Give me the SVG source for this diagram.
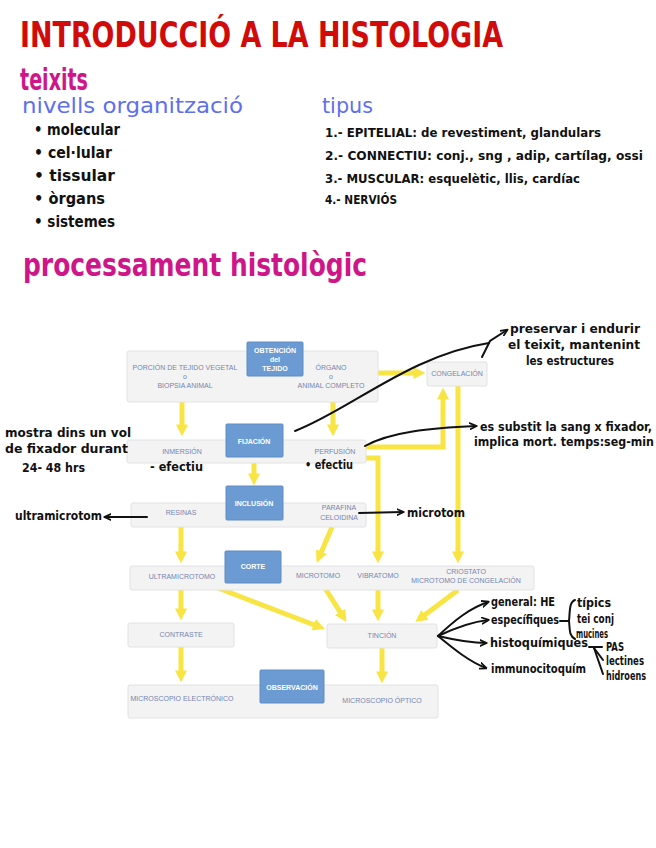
<svg xmlns="http://www.w3.org/2000/svg" width="656" height="848" viewBox="0 0 656 848">
<defs>
<marker id="ya" viewBox="0 0 10 10" refX="3" refY="5" markerWidth="12" markerHeight="12" markerUnits="userSpaceOnUse" orient="auto"><path d="M0,0 L10,5 L0,10 z" fill="#f8e443"/></marker>
<marker id="ba" viewBox="0 0 10 10" refX="8" refY="5" markerWidth="8" markerHeight="8" markerUnits="userSpaceOnUse" orient="auto"><path d="M0,1 L9,5 L0,9" fill="none" stroke="#111" stroke-width="2.2" stroke-linecap="round" stroke-linejoin="round"/></marker>
</defs>
<style>
.hw{font-family:"DejaVu Sans Condensed","DejaVu Sans","Liberation Sans",sans-serif;font-weight:bold}
.ink{fill:#111;font-size:12px}
.blue{fill:#5e6ff0;font-weight:normal}
.mag{fill:#cf1689}
.grey{fill:#f3f3f4;stroke:#e2e2e4;stroke-width:1}
.bx{fill:#6c9bd3;stroke:#5f8dc6;stroke-width:1}
.nt{font-family:"Liberation Sans",Arial,sans-serif;font-size:7px;fill:#7585ae;text-anchor:middle}
.wt{font-family:"Liberation Sans",Arial,sans-serif;font-size:7px;fill:#ffffff;font-weight:bold;text-anchor:middle}
.y{fill:none;stroke:#f8e443;stroke-width:5;marker-end:url(#ya)}
.k{fill:none;stroke:#111;stroke-width:2;stroke-linecap:round}
.ka{fill:none;stroke:#111;stroke-width:2;stroke-linecap:round;marker-end:url(#ba)}
</style>
<rect width="656" height="848" fill="#ffffff"/>

<g id="titles">
<text class="hw" x="20" y="47" font-size="36" fill="#d10a0a" textLength="483" lengthAdjust="spacingAndGlyphs">INTRODUCCIÓ A LA HISTOLOGIA</text>
<text class="hw mag" x="20" y="90" font-size="30" textLength="68" lengthAdjust="spacingAndGlyphs">teixits</text>
<text class="hw blue" x="22" y="113" font-size="21" textLength="221" lengthAdjust="spacingAndGlyphs">nivells organització</text>
<text class="hw blue" x="322" y="113" font-size="21" textLength="51" lengthAdjust="spacingAndGlyphs">tipus</text>
<text class="hw mag" x="23" y="276" font-size="32" textLength="344" lengthAdjust="spacingAndGlyphs">processament histològic</text>
</g>

<g id="nivells" class="hw ink">
<text x="34" y="135" font-size="15" textLength="86" lengthAdjust="spacingAndGlyphs">• molecular</text>
<text x="34" y="158" font-size="15" textLength="78" lengthAdjust="spacingAndGlyphs">• cel·lular</text>
<text x="34" y="181" font-size="15" textLength="81" lengthAdjust="spacingAndGlyphs">• tissular</text>
<text x="34" y="204" font-size="15" textLength="71" lengthAdjust="spacingAndGlyphs">• òrgans</text>
<text x="34" y="227" font-size="15" textLength="81" lengthAdjust="spacingAndGlyphs">• sistemes</text>
</g>

<g id="tipus" class="hw ink">
<text x="325" y="137" font-size="12" textLength="276" lengthAdjust="spacingAndGlyphs">1.- EPITELIAL: de revestiment, glandulars</text>
<text x="325" y="160" font-size="12" textLength="318" lengthAdjust="spacingAndGlyphs">2.- CONNECTIU: conj., sng , adip, cartílag, ossi</text>
<text x="325" y="183" font-size="12" textLength="255" lengthAdjust="spacingAndGlyphs">3.- MUSCULAR: esquelètic, llis, cardíac</text>
<text x="325" y="204" font-size="12" textLength="72" lengthAdjust="spacingAndGlyphs">4.- NERVIÓS</text>
</g>

<g id="connectors">
<path class="y" d="M182,402 V428"/>
<path class="y" d="M333,402 V428"/>
<path class="y" d="M378,373 H417"/>
<path class="y" d="M366,447 H443 V396"/>
<path class="y" d="M458,386 V555"/>
<path class="y" d="M366,458 H378 V555"/>
<path class="y" d="M254,458 V477"/>
<path class="y" d="M181,527 V555"/>
<path class="y" d="M332,527 L320,555"/>
<path class="y" d="M181,590 V612"/>
<path class="y" d="M218,588 L317,626"/>
<path class="y" d="M323,585 L342,615"/>
<path class="y" d="M378,590 V613"/>
<path class="y" d="M458,590 L422,617"/>
<path class="y" d="M181,647 V674"/>
<path class="y" d="M382,648 V675"/>
</g>

<g id="n-obtencion">
<rect class="grey" x="127" y="351" width="251" height="51" rx="2"/>
<rect class="bx" x="247" y="342" width="56" height="34" rx="1"/>
<text class="wt" x="275" y="353">OBTENCIÓN</text>
<text class="wt" x="275" y="362" font-size="6">del</text>
<text class="wt" x="275" y="371">TEJIDO</text>
<text class="nt" x="185" y="370">PORCIÓN DE TEJIDO VEGETAL</text>
<text class="nt" x="185" y="379">o</text>
<text class="nt" x="185" y="388">BIOPSIA ANIMAL</text>
<text class="nt" x="331" y="370">ÓRGANO</text>
<text class="nt" x="331" y="379">o</text>
<text class="nt" x="331" y="388">ANIMAL COMPLETO</text>
</g>

<g id="n-congelacion">
<rect class="grey" x="427" y="362" width="60" height="24" rx="2"/>
<text class="nt" x="457" y="376" font-size="6.5">CONGELACIÓN</text>
</g>

<g id="n-fijacion">
<rect class="grey" x="127" y="440" width="239" height="23" rx="2"/>
<rect class="bx" x="226" y="424" width="57" height="33" rx="1"/>
<text class="wt" x="254" y="444">FIJACIÓN</text>
<text class="nt" x="182" y="454">INMERSIÓN</text>
<text class="nt" x="335" y="454">PERFUSIÓN</text>
</g>

<g id="n-inclusion">
<rect class="grey" x="131" y="503" width="235" height="24" rx="2"/>
<rect class="bx" x="226" y="486" width="57" height="34" rx="1"/>
<text class="wt" x="254" y="506">INCLUSIÓN</text>
<text class="nt" x="181" y="515">RESINAS</text>
<text class="nt" x="339" y="510">PARAFINA</text>
<text class="nt" x="339" y="520">CELOIDINA</text>
</g>

<g id="n-corte">
<rect class="grey" x="130" y="566" width="404" height="24" rx="2"/>
<rect class="bx" x="225" y="551" width="56" height="32" rx="1"/>
<text class="wt" x="253" y="569">CORTE</text>
<text class="nt" x="182" y="579">ULTRAMICROTOMO</text>
<text class="nt" x="318" y="578">MICROTOMO</text>
<text class="nt" x="378" y="578">VIBRATOMO</text>
<text class="nt" x="466" y="574">CRIOSTATO</text>
<text class="nt" x="466" y="583">MICROTOMO DE CONGELACIÓN</text>
</g>

<g id="n-contraste">
<rect class="grey" x="128" y="623" width="106" height="24" rx="2"/>
<text class="nt" x="181" y="637">CONTRASTE</text>
</g>

<g id="n-tincion">
<rect class="grey" x="327" y="624" width="110" height="24" rx="2"/>
<text class="nt" x="382" y="638">TINCIÓN</text>
</g>

<g id="n-observacion">
<rect class="grey" x="128" y="685" width="310" height="33" rx="2"/>
<rect class="bx" x="260" y="670" width="64" height="33" rx="1"/>
<text class="wt" x="292" y="690">OBSERVACIÓN</text>
<text class="nt" x="182" y="701">MICROSCOPIO ELECTRÓNICO</text>
<text class="nt" x="382" y="703">MICROSCOPIO ÓPTICO</text>
</g>

<g id="annotations">
<path class="k" d="M295,431 C350,410 410,355 489,343"/>
<path class="ka" d="M482,357 L490,341 L507,330"/>
<text class="hw ink" x="510" y="333" textLength="130" lengthAdjust="spacingAndGlyphs">preservar i endurir</text>
<text class="hw ink" x="508" y="349" textLength="132" lengthAdjust="spacingAndGlyphs">el teixit, mantenint</text>
<text class="hw ink" x="526" y="365" textLength="88" lengthAdjust="spacingAndGlyphs">les estructures</text>

<path class="ka" d="M365,446 C390,432 430,428 476,426"/>
<text class="hw ink" x="480" y="431" textLength="172" lengthAdjust="spacingAndGlyphs">es substit la sang x fixador,</text>
<text class="hw ink" x="474" y="446" textLength="180" lengthAdjust="spacingAndGlyphs">implica mort. temps:seg-min</text>

<text class="hw ink" x="5" y="437" textLength="126" lengthAdjust="spacingAndGlyphs">mostra dins un vol</text>
<text class="hw ink" x="5" y="453" textLength="123" lengthAdjust="spacingAndGlyphs">de fixador durant</text>
<text class="hw ink" x="22" y="472" textLength="63" lengthAdjust="spacingAndGlyphs">24- 48 hrs</text>
<text class="hw ink" x="150" y="471" textLength="53" lengthAdjust="spacingAndGlyphs">- efectiu</text>
<text class="hw ink" x="305" y="469" textLength="48" lengthAdjust="spacingAndGlyphs">• efectiu</text>

<path class="ka" d="M147,517 L105,517"/>
<text class="hw ink" x="15" y="520" textLength="87" lengthAdjust="spacingAndGlyphs">ultramicrotom</text>
<path class="ka" d="M359,513 L403,512"/>
<text class="hw ink" x="407" y="517" textLength="58" lengthAdjust="spacingAndGlyphs">microtom</text>

<path class="ka" d="M438,636 C455,620 470,608 488,602"/>
<path class="ka" d="M438,636 C455,628 470,622 488,620"/>
<path class="ka" d="M438,636 C455,640 470,643 486,643"/>
<path class="ka" d="M438,636 C455,650 470,662 486,668"/>
<text class="hw ink" x="491" y="606" font-size="11" textLength="64" lengthAdjust="spacingAndGlyphs">general: HE</text>
<text class="hw ink" x="491" y="624" font-size="11" textLength="68" lengthAdjust="spacingAndGlyphs">específiques</text>
<text class="hw ink" x="490" y="647" font-size="11" textLength="98" lengthAdjust="spacingAndGlyphs">histoquímiques</text>
<text class="hw ink" x="491" y="673" font-size="11" textLength="95" lengthAdjust="spacingAndGlyphs">immunocitoquím</text>
<path class="k" d="M560,621 H569"/>
<path class="k" d="M575,600 C569,602 570,612 569,621 C570,630 569,636 575,639"/>
<text class="hw ink" x="577" y="607" font-size="10" textLength="34" lengthAdjust="spacingAndGlyphs">típics</text>
<text class="hw ink" x="577" y="623" font-size="10" textLength="37" lengthAdjust="spacingAndGlyphs">tei conj</text>
<text class="hw ink" x="576" y="638" font-size="9" textLength="32" lengthAdjust="spacingAndGlyphs">mucines</text>
<path class="k" d="M589,647 H602"/>
<path class="k" d="M594,648 L603,660"/>
<path class="k" d="M594,648 L603,674"/>
<text class="hw ink" x="606" y="651" font-size="9" textLength="18" lengthAdjust="spacingAndGlyphs">PAS</text>
<text class="hw ink" x="606" y="665" font-size="9" textLength="38" lengthAdjust="spacingAndGlyphs">lectines</text>
<text class="hw ink" x="606" y="680" font-size="9" textLength="40" lengthAdjust="spacingAndGlyphs">hidroens</text>
</g>
</svg>
